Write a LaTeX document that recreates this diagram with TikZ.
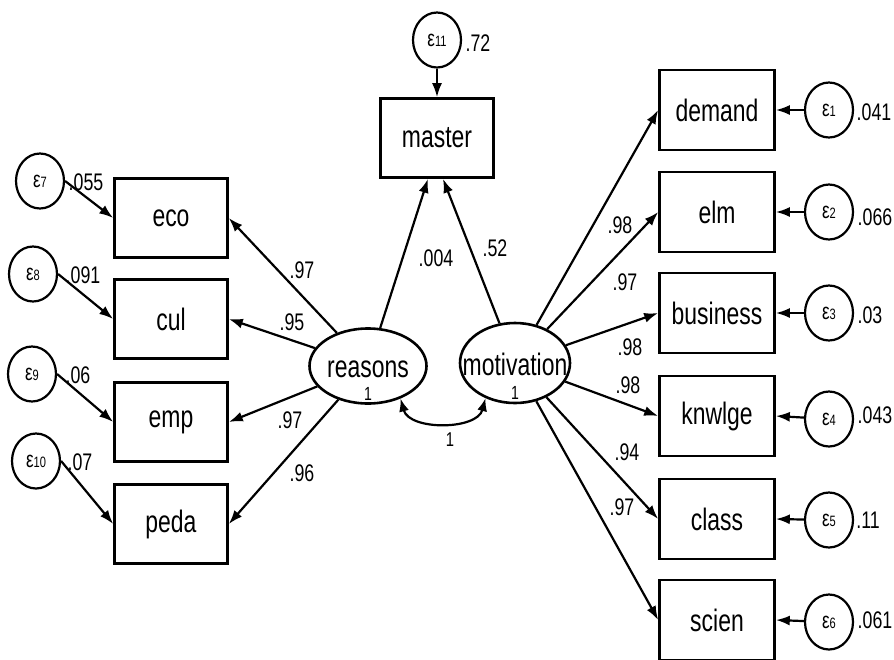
\documentclass[tikz,border=0pt]{standalone}
\usepackage{fontspec}
\setmainfont{Liberation Sans}
\usetikzlibrary{shapes.geometric,arrows.meta}
\newcommand\lbl[2]{\scalebox{0.74}[1]{\fontsize{#1}{#1}\selectfont #2}}
\newcommand\epsl[1]{\lbl{23}{ε{\fontsize{15}{15}\selectfont #1}}}
\begin{document}
\begin{tikzpicture}[x=1pt,y=1pt,
  obs/.style={draw, line width=2.6pt, minimum width=113pt, minimum height=79pt, inner sep=0pt},
  obsr/.style={obs, minimum width=115pt, minimum height=80pt},
  err/.style={draw, ellipse, line width=2.2pt, minimum width=48pt, minimum height=55pt, inner sep=0pt},
  lat/.style={draw, ellipse, line width=2.6pt, inner sep=0pt},
  num/.style={inner sep=0pt},
  arr/.style={line width=2.2pt, -{Latex[length=14pt,width=10pt]}},
]
\fill[white] (0,0) rectangle (894,-659);
\useasboundingbox (0,0) rectangle (894,-659);

% observed left
\node[obs] (eco)  at (171,-218) {\lbl{31}{eco}};
\node[obs] (cul)  at (171,-319) {\lbl{31}{cul}};
\node[obs] (emp)  at (171,-422) {\lbl{31}{emp}};
\node[obs] (peda) at (171,-524) {\lbl{31}{peda}};
% master
\node[obs] (master) at (437,-138) {\lbl{31}{master}};
% observed right
\node[obsr] (demand)   at (717,-110) {\lbl{31}{demand}};
\node[obsr] (elm)      at (717,-212) {\lbl{31}{elm}};
\node[obsr] (business) at (717,-313) {\lbl{31}{business}};
\node[obsr] (knwlge)   at (717,-416) {\lbl{31}{knwlge}};
\node[obsr] (class)    at (717,-519) {\lbl{31}{class}};
\node[obsr] (scien)    at (717,-620) {\lbl{31}{scien}};

% errors
\node[err] (e7)  at (40,-181) {\epsl{7}};
\node[err] (e8)  at (33,-274) {\epsl{8}};
\node[err] (e9)  at (32,-374) {\epsl{9}};
\node[err] (e10) at (36,-461) {\epsl{10}};
\node[err] (e11) at (437,-40) {\epsl{11}};
\node[err] (e1) at (829,-110) {\epsl{1}};
\node[err] (e2) at (829,-212) {\epsl{2}};
\node[err] (e3) at (829,-313) {\epsl{3}};
\node[err] (e4) at (829,-419) {\epsl{4}};
\node[err] (e5) at (829,-520) {\epsl{5}};
\node[err] (e6) at (829,-622) {\epsl{6}};

% latents
\node[lat, minimum width=117pt, minimum height=75pt] (reasons) at (368,-366) {};
\node[lat, minimum width=110pt, minimum height=80pt] (motivation) at (515,-363) {};
\node[num, anchor=base] (treasons) at (368,-377) {\lbl{31}{reasons}};
\node[num, anchor=base] (oreasons) at (368,-400) {\lbl{19}{1}};
\node[num, anchor=base] (tmot) at (515,-375) {\lbl{31}{motivation}};
\node[num, anchor=base] (omot) at (515,-399) {\lbl{19}{1}};

% paths
\draw[arr] (reasons) -- (eco.east);
\draw[arr] (reasons) -- (cul.east);
\draw[arr] (reasons) -- (emp.east);
\draw[arr] (reasons) -- (peda.east);
\draw[arr] (reasons) -- ([xshift=-9pt]master.south);
\draw[arr] (motivation) -- ([xshift=6pt]master.south);
\draw[arr] (motivation) -- (demand.west);
\draw[arr] (motivation) -- (elm.west);
\draw[arr] (motivation) -- (business.west);
\draw[arr] (motivation) -- (knwlge.west);
\draw[arr] (motivation) -- (class.west);
\draw[arr] (motivation) -- (scien.west);

\draw[arr] (e7.east) -- (eco.west);
\draw[arr] (e8.east) -- (cul.west);
\draw[arr] (e9.east) -- (emp.west);
\draw[arr] (e10.east) -- (peda.west);
\draw[arr] (e11) -- (master);
\draw[arr] (e1) -- (demand.east);
\draw[arr] (e2) -- (elm.east);
\draw[arr] (e3) -- (business.east);
\draw[arr] (e4) -- (knwlge.east);
\draw[arr] (e5) -- (class.east);
\draw[arr] (e6) -- (scien.east);

\draw[line width=2.2pt, {Latex[length=13pt,width=10pt]}-{Latex[length=13pt,width=10pt]}]
  (reasons.-45) to[bend right=75] (motivation.-130);

% labels
\node[num] (l1) at (302,-270) {\lbl{24}{.97}};
\node[num] (l2) at (292,-322) {\lbl{24}{.95}};
\node[num] (l3) at (290,-420) {\lbl{24}{.97}};
\node[num] (l4) at (302,-473) {\lbl{24}{.96}};
\node[num] (l5) at (436,-258) {\lbl{24}{.004}};
\node[num] (l6) at (495,-248) {\lbl{24}{.52}};
\node[num] (l7) at (620,-225) {\lbl{24}{.98}};
\node[num] (l8) at (625,-282) {\lbl{24}{.97}};
\node[num] (l9) at (630,-347) {\lbl{24}{.98}};
\node[num] (l10) at (628,-385) {\lbl{24}{.98}};
\node[num] (l11) at (627,-452) {\lbl{24}{.94}};
\node[num] (l12) at (622,-507) {\lbl{24}{.97}};
\node[num] (l13) at (478,-43) {\lbl{24}{.72}};
\node[num] (l14) at (874,-112) {\lbl{24}{.041}};
\node[num] (l15) at (875,-217) {\lbl{24}{.066}};
\node[num] (l16) at (870,-315) {\lbl{24}{.03}};
\node[num] (l17) at (875,-415) {\lbl{24}{.043}};
\node[num] (l18) at (868,-520) {\lbl{24}{.11}};
\node[num] (l19) at (875,-620) {\lbl{24}{.061}};
\node[num] (l20) at (86,-182) {\lbl{24}{.055}};
\node[num] (l21) at (83,-275) {\lbl{24}{.091}};
\node[num] (l22) at (78,-375) {\lbl{24}{.06}};
\node[num] (l23) at (80,-462) {\lbl{24}{.07}};
\node[num] (l24) at (450,-440) {\lbl{20}{1}};
\end{tikzpicture}
\end{document}
